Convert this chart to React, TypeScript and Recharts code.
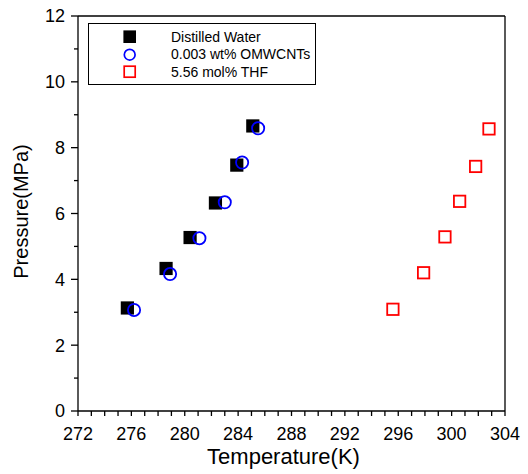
import { ScatterChart, Scatter, XAxis, YAxis, ReferenceLine, Legend } from 'recharts'

const font = '"Liberation Sans", Arial, Helvetica, sans-serif'

// series names
const seriesNames = ['Distilled Water', '0.003 wt% OMWCNTs', '5.56 mol% THF']

// temperature (K) / pressure (MPa)
const waterTemp = [275.7, 278.6, 280.4, 282.3, 283.9, 285.1]
const waterPressure = [3.13, 4.33, 5.27, 6.32, 7.47, 8.66]
const cntTemp = [276.2, 278.9, 281.1, 283.0, 284.3, 285.5]
const cntPressure = [3.07, 4.16, 5.25, 6.34, 7.55, 8.59]
const thfTemp = [295.6, 297.9, 299.5, 300.6, 301.8, 302.8]
const thfPressure = [3.09, 4.2, 5.29, 6.37, 7.43, 8.57]

const xLabels = [272, 276, 280, 284, 288, 292, 296, 300, 304]
const yLabels = [0, 2, 4, 6, 8, 10, 12]
const xTicks = Array.from({ length: 33 }, (_, i) => 272 + i)
const yTicks = Array.from({ length: 13 }, (_, i) => i)

const toRows = (ts: number[], ps: number[]) => ts.map((t, i) => ({ t, p: ps[i] }))
const water = toRows(waterTemp, waterPressure)
const cnt = toRows(cntTemp, cntPressure)
const thf = toRows(thfTemp, thfPressure)

const FilledSquare = ({ cx, cy }: any) => (
  <rect x={cx - 6.6} y={cy - 6.6} width={13.2} height={13.2} fill="#000" />
)
const OpenCircle = ({ cx, cy }: any) => (
  <circle cx={cx} cy={cy} r={6.1} fill="none" stroke="#0000ff" strokeWidth={1.8} />
)
const OpenSquare = ({ cx, cy }: any) => (
  <rect x={cx - 5.7} y={cy - 5.7} width={11.4} height={11.4} fill="none" stroke="#ff0000" strokeWidth={1.8} />
)

const XTick = ({ x, y, payload }: any) => {
  const v = payload.value
  return (
    <g>
      <line x1={x} y1={y} x2={x} y2={y + 5} stroke="#000" strokeWidth={1.3} />
      {xLabels.includes(v) && (
        <text x={x} y={y + 29} textAnchor="middle" fontSize={18} fontFamily={font} fill="#000">
          {v}
        </text>
      )}
    </g>
  )
}

const YTick = ({ x, y, payload }: any) => {
  const v = payload.value
  const major = yLabels.includes(v)
  return (
    <g>
      <line x1={x} y1={y} x2={x - (major ? 7 : 4)} y2={y} stroke="#000" strokeWidth={1.3} />
      {major && (
        <text x={x - 13} y={y} dy="0.36em" textAnchor="end" fontSize={18} fontFamily={font} fill="#000">
          {v}
        </text>
      )}
    </g>
  )
}

const legendIcon = (name: string) => {
  if (name === seriesNames[0]) return <rect x={0.4} y={0.4} width={12.6} height={12.6} fill="#000" />
  if (name === seriesNames[1]) return <circle cx={6.7} cy={6.7} r={5.4} fill="none" stroke="#0000ff" strokeWidth={1.7} />
  return <rect x={1.2} y={1.2} width={11} height={11} fill="none" stroke="#ff0000" strokeWidth={1.7} />
}

const LegendBox = ({ payload }: any) => {
  const items = [...(payload || [])].sort(
    (a: any, b: any) => seriesNames.indexOf(a.value) - seriesNames.indexOf(b.value),
  )
  return (
    <div
      style={{
        position: 'relative',
        width: 228,
        height: 62,
        border: '1.3px solid #000',
        boxSizing: 'border-box',
        background: '#fff',
        fontFamily: font,
        fontSize: 14,
        color: '#000',
      }}
    >
      {items.map((entry: any, i: number) => (
        <div key={entry.value} style={{ position: 'absolute', left: 0, top: 13 + i * 17.6 - 7, height: 14, width: '100%' }}>
          <svg width={14} height={14} style={{ position: 'absolute', left: 34, top: 0 }}>
            {legendIcon(entry.value)}
          </svg>
          <span style={{ position: 'absolute', left: 82, top: -1.5, lineHeight: '16px', whiteSpace: 'nowrap' }}>
            {entry.value}
          </span>
        </div>
      ))}
    </div>
  )
}

export default function App() {
  return (
    <div style={{ position: 'absolute', left: 0, top: 0, background: '#fff' }}>
      <ScatterChart width={528} height={474} margin={{ top: 16, right: 23, bottom: 0, left: 0 }}>
        <XAxis
          type="number"
          dataKey="t"
          domain={[272, 304]}
          ticks={xTicks}
          interval={0}
          tickSize={0}
          tickMargin={0}
          tickLine={false}
          tick={<XTick />}
          height={63}
          axisLine={{ stroke: '#000', strokeWidth: 1.3 }}
          label={{
            content: ({ viewBox }: any) => (
              <text
                x={viewBox.x + viewBox.width / 2 - 8}
                y={464}
                textAnchor="middle"
                fontSize={22}
                fontFamily={font}
                fill="#000"
              >
                Temperature(K)
              </text>
            ),
          }}
        />
        <YAxis
          type="number"
          dataKey="p"
          domain={[0, 12]}
          ticks={yTicks}
          interval={0}
          tickSize={0}
          tickMargin={0}
          tickLine={false}
          tick={<YTick />}
          width={78}
          axisLine={{ stroke: '#000', strokeWidth: 1.3 }}
          label={{
            content: ({ viewBox }: any) => {
              const cy = viewBox.y + viewBox.height / 2 - 2
              return (
                <text
                  x={28}
                  y={cy}
                  transform={`rotate(-90, 28, ${cy})`}
                  textAnchor="middle"
                  fontSize={20}
                  fontFamily={font}
                  fill="#000"
                >
                  Pressure(MPa)
                </text>
              )
            },
          }}
        />
        <ReferenceLine y={12} stroke="#000" strokeWidth={1.3} />
        <ReferenceLine x={304} stroke="#000" strokeWidth={1.3} />
        <Legend
          layout="vertical"
          align="center"
          verticalAlign="middle"
          content={<LegendBox />}
          wrapperStyle={{ left: 88, top: 23, width: 228, height: 62 }}
        />
        <Scatter name={seriesNames[0]} data={water} fill="#000" shape={<FilledSquare />} isAnimationActive={false} />
        <Scatter name={seriesNames[1]} data={cnt} fill="#0000ff" shape={<OpenCircle />} isAnimationActive={false} />
        <Scatter name={seriesNames[2]} data={thf} fill="#ff0000" shape={<OpenSquare />} isAnimationActive={false} />
      </ScatterChart>
    </div>
  )
}
